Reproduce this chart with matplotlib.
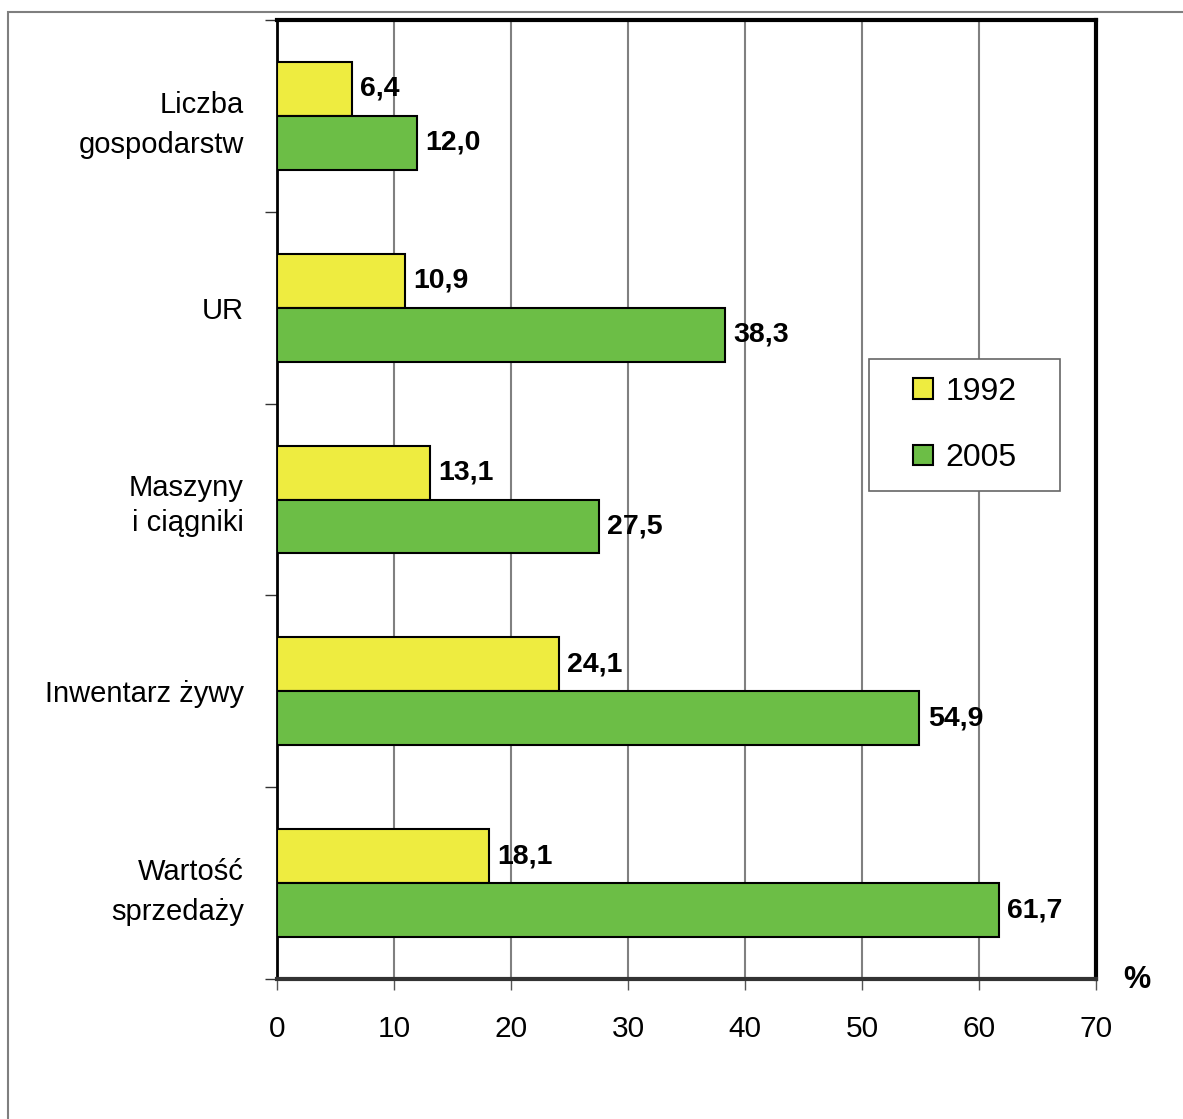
import matplotlib
matplotlib.use("Agg")
import numpy as np
from matplotlib import pyplot as plt
from matplotlib.patches import Rectangle

plt.rcParams['font.family'] = ['Liberation Sans', 'DejaVu Sans']

categories = ['Liczba\ngospodarstw', 'UR', 'Maszyny\ni ciągniki', 'Inwentarz żywy', 'Wartość\nsprzedaży']
values_1992 = [6.4, 10.9, 13.1, 24.1, 18.1]
values_2005 = [12.0, 38.3, 27.5, 54.9, 61.7]
years = ['1992', '2005']
x_ticks = [0, 10, 20, 30, 40, 50, 60, 70]

yellow = '#eeec40'
green = '#6cbe46'
W, H = 1183, 1119

fig = plt.figure(figsize=(W / 100, H / 100), dpi=100)
ax = fig.add_axes([277 / W, 1 - 979 / H, (1096 - 277) / W, (979 - 20) / H])

# outer frame of the picture (only left and top edges are visible)
fig.patches.append(Rectangle((8 / W, -0.1), 1.2, (H - 12) / H + 0.1,
                             transform=fig.transFigure, fill=False,
                             edgecolor='#7f7f7f', linewidth=1.5))

pos = np.arange(len(categories)) + 0.5
h = 0.281
b1 = ax.barh(pos - h / 2, values_1992, height=h, color=yellow, edgecolor='black',
             linewidth=1.5, label=years[0], zorder=3)
b2 = ax.barh(pos + h / 2, values_2005, height=h, color=green, edgecolor='black',
             linewidth=1.5, label=years[1], zorder=3)

for bars, vals in ((b1, values_1992), (b2, values_2005)):
    for bar, v in zip(bars, vals):
        ax.annotate(f'{v:.1f}'.replace('.', ','),
                    (bar.get_width(), bar.get_y() + bar.get_height() / 2),
                    xytext=(6, 0), textcoords='offset points',
                    ha='left', va='center', fontsize=20.5, fontweight='bold')

ax.set_xlim(0, 70)
ax.set_ylim(len(categories), 0)
ax.set_xticks(x_ticks)
ax.set_xticklabels([str(t) for t in x_ticks], fontsize=21.5)
ax.tick_params(axis='x', length=8, width=1, color='#555555', pad=18)

ax.set_yticks(pos)
labels = ax.set_yticklabels(categories, fontsize=21, ha='right', multialignment='right')
for lab in labels:
    lab.set_linespacing(1.55)
labels[2].set_linespacing(1.3)
ax.tick_params(axis='y', which='major', length=0, pad=24)
ax.set_yticks(np.arange(len(categories) + 1), minor=True)
ax.tick_params(axis='y', which='minor', length=9, width=1, color='#333333')

ax.grid(axis='x', color='#808080', linewidth=1.5, zorder=0)
ax.set_axisbelow(True)

ax.spines['left'].set_linewidth(2)
ax.spines['top'].set_linewidth(3)
ax.spines['right'].set_linewidth(3)
ax.spines['bottom'].set_linewidth(3)
ax.spines['bottom'].set_color('#333333')

fig.text(1137 / W, 1 - 980 / H, '%', fontsize=22, fontweight='bold',
         ha='center', va='center')

# legend box drawn separately, entries centred inside it
fig.patches.append(Rectangle((869 / W, 1 - 491 / H), (1060 - 869) / W, (491 - 359) / H,
                             transform=fig.transFigure, facecolor='white',
                             edgecolor='#666666', linewidth=1.2, zorder=4))
leg = fig.legend(handles=[b1, b2], labels=years, loc='center',
                 bbox_to_anchor=(965 / W, 1 - 425 / H),
                 bbox_transform=fig.transFigure, fontsize=23, frameon=False,
                 handlelength=0.6, handleheight=0.6, handletextpad=0.4,
                 labelspacing=1.15, borderpad=0, borderaxespad=0)
leg.set_zorder(5)

fig.savefig('out.png', dpi=100)
